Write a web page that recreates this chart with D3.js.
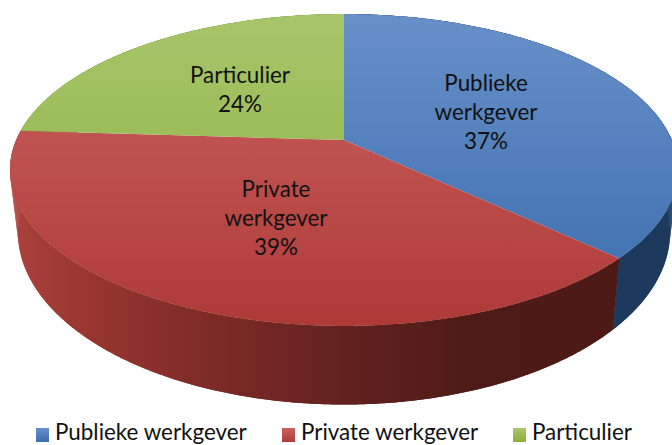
<!DOCTYPE html>
<html><head><meta charset="utf-8">
<script src="https://cdn.jsdelivr.net/npm/d3@7/dist/d3.min.js"></script>
<style>html,body{margin:0;background:#fff}svg{display:block}text{font-family:Lato,"Open Sans",sans-serif;fill:#111}</style>
</head><body><svg width="672" height="445"></svg>
<script>
const categories = ["Publieke werkgever","Private werkgever","Particulier"];
const values = [37,39,24];
const labelLines = [["Publieke","werkgever","37%"],["Private","werkgever","39%"],["Particulier","24%"]];
const topStops = [["#6790c9","#3a6cab"],["#cb6361","#ae3a38"],["#a8c56a","#8bb040"]];
const sideStops = [
  [[0,"#1d3a5e"],[1,"#1d3a5e"]],
  [[0,"#ab413d"],[0.13,"#96352f"],[0.29,"#7f2b27"],[0.5,"#632220"],[0.68,"#4f1b17"],[1,"#4d1916"]],
  [[0,"#6d8c30"],[1,"#6d8c30"]]
];

const svg = d3.select("svg");
const cx=344,k=0.1923;
const topFace={y0:140,A:150.2,B:327.8};
const botFace={y0:199,A:166,B:320};
const project=(a,p)=>{const u=Math.sin(a),v=-Math.cos(a),w=1-k*v;
  return [cx+p.B*u/w,p.y0+p.A*v/w];};
const pie=d3.pie().sort(null).value(d=>d)(values);
const arcPts=(a0,a1,p)=>{const n=Math.max(2,Math.ceil((a1-a0)/0.01));
  return d3.range(n+1).map(i=>project(a0+(a1-a0)*i/n,p));};
const line=d3.line();

const defs=svg.append("defs");
topStops.forEach((s,i)=>{
  const g=defs.append("linearGradient").attr("id","g"+i).attr("gradientUnits","userSpaceOnUse")
    .attr("x1",0).attr("x2",0).attr("y1",14).attr("y2",326);
  g.append("stop").attr("offset",0).attr("stop-color",s[0]);
  g.append("stop").attr("offset",1).attr("stop-color",s[1]);
  const l=defs.append("linearGradient").attr("id","l"+i).attr("x1",0).attr("x2",0).attr("y1",0).attr("y2",1);
  l.append("stop").attr("offset",0).attr("stop-color",s[0]);
  l.append("stop").attr("offset",1).attr("stop-color",s[1]);
});
sideStops.forEach((s,i)=>{
  const g=defs.append("linearGradient").attr("id","s"+i).attr("gradientUnits","userSpaceOnUse")
    .attr("x1",10).attr("x2",672).attr("y1",0).attr("y2",0);
  s.forEach(p=>g.append("stop").attr("offset",p[0]).attr("stop-color",p[1]));
});

// side walls: outline of the wall, plus separate quads that close the silhouette
const wallOutline=d=>line([...arcPts(d.startAngle,d.endAngle,topFace),...arcPts(d.startAngle,d.endAngle,botFace).reverse()])+"Z";
const quads=[];
pie.forEach((d,s)=>{
  const t=arcPts(d.startAngle,d.endAngle,topFace),b=arcPts(d.startAngle,d.endAngle,botFace);
  d3.pairs(d3.range(t.length)).forEach(([i,j])=>quads.push({s,path:line([t[i],t[j],b[j],b[i]])+"Z",z:-Math.cos(d.startAngle+(d.endAngle-d.startAngle)*i/(t.length-1))}));
});
quads.sort((a,b)=>a.z-b.z);
const walls=svg.append("g");
walls.selectAll("path.q").data(quads).join("path").attr("class","q").attr("d",q=>q.path).attr("fill",q=>`url(#s${q.s})`);
walls.selectAll("path.o").data(pie).join("path").attr("class","o").attr("d",wallOutline).attr("fill",(d,i)=>`url(#s${i})`);

// top face
svg.append("g").selectAll("path").data(pie).join("path")
  .attr("d",d=>line([[cx,topFace.y0],...arcPts(d.startAngle,d.endAngle,topFace)])+"Z")
  .attr("fill",(d,i)=>`url(#g${i})`);

const labelX=[486,276,240], labelY=[91,197,83], lh=29;
labelLines.forEach((ls,i)=>{
  const t=svg.append("text").attr("text-anchor","middle").attr("font-size",22.4);
  ls.forEach((s,j)=>t.append("tspan").attr("x",labelX[i]).attr("y",labelY[i]+j*lh).text(s));
});

const legX=[36,282,513];
const lg=svg.append("g").selectAll("g").data(categories).join("g").attr("transform",(d,i)=>`translate(${legX[i]},0)`);
lg.append("rect").attr("y",428).attr("width",13).attr("height",14).attr("fill",(d,i)=>`url(#l${i})`);
lg.append("text").attr("x",19).attr("y",440).attr("font-size",22.4).text(d=>d);
</script></body></html>
